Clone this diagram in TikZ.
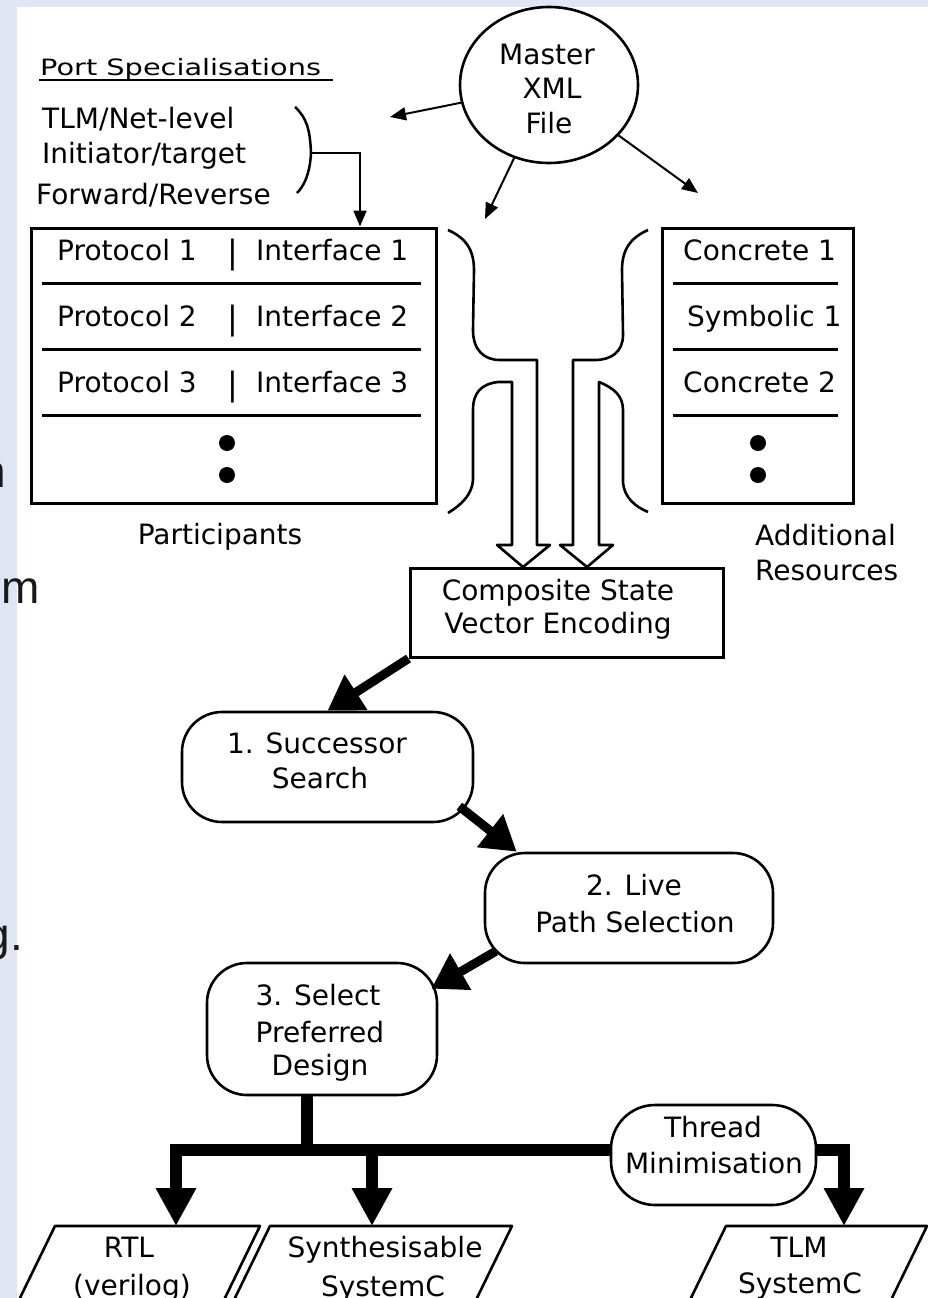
\documentclass[tikz,border=0pt]{standalone}
\usepackage{fontspec}
\setmainfont{DejaVu Sans}
\newfontfamily\slidefont{Liberation Sans}
\usetikzlibrary{arrows.meta,shapes.geometric}
\definecolor{slidebg}{RGB}{225,230,245}
\definecolor{slidetext}{RGB}{25,25,25}
\begin{document}
\begin{tikzpicture}[x=1pt,y=-1pt,
  txt/.style={inner sep=0pt, font=\fontsize{28}{34}\selectfont},
  slidetxt/.style={inner sep=0pt, anchor=base east, text=slidetext, font=\slidefont\fontsize{46}{50}\selectfont},
  plainbox/.style={draw, line width=3pt, inner sep=0pt},
  rbox/.style={draw, line width=2.6pt, rounded corners=40pt, inner sep=0pt},
  sepline/.style={line width=3pt},
  thinarrow/.style={line width=2pt, -{Triangle[length=16pt,width=13pt]}},
  fatarrow/.style={line width=9pt, -{Triangle[length=34pt,width=40pt]}},
  busline/.style={line width=12pt},
  busarrow/.style={line width=12pt, -{Triangle[length=38pt,width=38pt]}},
  outline/.style={line width=2.6pt, line join=round},
  dotmark/.style={circle, fill, inner sep=0pt, minimum size=16pt},
]
\useasboundingbox (0,0) rectangle (928,1298);
\clip (0,0) rectangle (928,1298);
% slide background
\fill[slidebg] (0,0) rectangle (928,1298);
\fill[white] (17,7) rectangle (928,1298);
\node[slidetxt] (fragn) at (6,487) {n};
\node[slidetxt] (fragm) at (40,603) {m};
\node[slidetxt] (fragg) at (23,950) {g.};

% Port specialisations
\node[txt, anchor=base west] (tps) at (40,75) {\scalebox{1.28}[1]{\fontsize{22.5}{26}\selectfont Port Specialisations}};
\draw[line width=2.5pt] (39,80) -- (333,80);
\node[txt, anchor=base west] (ttlm) at (42,128) {TLM/Net-level};
\node[txt, anchor=base west] (tinit) at (42,163) {Initiator/target};
\node[txt, anchor=base west] (tfwd) at (36,204) {Forward/Reverse};
\coordinate (bracemid) at (311,153);
\draw[line width=2.5pt] (295,107) .. controls (307,118) and (310,130) .. (bracemid) .. controls (310,172) and (305,185) .. (297,193);

% Master XML file
\node[draw, ellipse, line width=2.6pt, minimum width=178pt, minimum height=156pt, inner sep=0pt] (master) at (549,85) {};
\node[txt, anchor=base] (tmaster) at (547,65) {Master};
\node[txt, anchor=base] (txml) at (552,99) {XML};
\node[txt, anchor=base] (tfile) at (549,133) {File};
\coordinate (mtipL) at (390,117);
\coordinate (mtipD) at (485,219);
\coordinate (mtipR) at (698,193);
\draw[thinarrow] (master) -- (mtipL);
\draw[thinarrow] (master) -- (mtipD);
\draw[thinarrow] (master) -- (mtipR);

% Participants box
\node[plainbox, minimum width=405pt, minimum height=275pt] (part) at (233.5,365.5) {};
\draw[thinarrow] (bracemid) -| ([xshift=126.5pt]part.north);
\draw[sepline] (42,283) -- (421,283);
\draw[sepline] (42,349) -- (421,349);
\draw[sepline] (42,415) -- (421,415);
\node[txt, anchor=base west] (p1) at (57,260) {Protocol 1};
\node[txt, anchor=base west] (p2) at (57,326) {Protocol 2};
\node[txt, anchor=base west] (p3) at (57,392) {Protocol 3};
\node[txt, anchor=base, font=\fontsize{32}{34}\selectfont] (b1) at (233,263) {|};
\node[txt, anchor=base, font=\fontsize{32}{34}\selectfont] (b2) at (233,329) {|};
\node[txt, anchor=base, font=\fontsize{32}{34}\selectfont] (b3) at (233,395) {|};
\node[txt, anchor=base west] (i1) at (256,260) {Interface 1};
\node[txt, anchor=base west] (i2) at (256,326) {Interface 2};
\node[txt, anchor=base west] (i3) at (256,392) {Interface 3};
\node[dotmark] (pd1) at (227,443) {};
\node[dotmark] (pd2) at (227,475) {};
\node[txt, anchor=base] (tpart) at (220,544) {Participants};

% Additional resources box
\node[plainbox, minimum width=191pt, minimum height=275pt] (addr) at (757.5,365.5) {};
\draw[sepline] (673,283) -- (838,283);
\draw[sepline] (673,349) -- (838,349);
\draw[sepline] (673,415) -- (838,415);
\node[txt, anchor=base west] (c1) at (683,260) {Concrete 1};
\node[txt, anchor=base west] (s1) at (687,326) {Symbolic 1};
\node[txt, anchor=base west] (c2) at (683,392) {Concrete 2};
\node[dotmark] (ad1) at (758,443) {};
\node[dotmark] (ad2) at (758,475) {};
\node[txt, anchor=base west] (tadd) at (755,545) {Additional};
\node[txt, anchor=base west] (tres) at (755,580) {Resources};

% funnel braces and hollow arrows
\draw[outline] (448,230) .. controls (466,238) and (474,250) .. (474,270) -- (473,330)
  .. controls (473,350) and (484,360) .. (500,360) -- (537,360) -- (537,545) -- (550,545)
  -- (523,567) -- (497,545) -- (512,545) -- (512,382) -- (498,382)
  .. controls (481,384) and (473,393) .. (473,410) -- (473,480)
  .. controls (472,495) and (461,505) .. (448,513);
\draw[outline] (648,230) .. controls (630,238) and (622,250) .. (622,270) -- (623,335)
  .. controls (623,352) and (611,360) .. (595,360) -- (573,360) -- (573,545) -- (560,545)
  -- (587,567) -- (613,545) -- (599,545) -- (599,382)
  .. controls (614,388) and (623,396) .. (623,410) -- (623,482)
  .. controls (624,498) and (636,507) .. (648,512);

% Composite state vector encoding
\node[plainbox, minimum width=313pt, minimum height=89pt] (comp) at (566.5,612.5) {};
\node[txt, anchor=base] (tcomp1) at (558,600) {Composite State};
\node[txt, anchor=base] (tcomp2) at (558,633) {Vector Encoding};

% 1. Successor search
\node[rbox, minimum width=291pt, minimum height=110pt] (succ) at (327.5,767) {};
\node[txt, anchor=base] (tsucc1) at (317,753) {1. Successor};
\node[txt, anchor=base] (tsucc2) at (320,788) {Search};

% 2. Live path selection
\node[rbox, minimum width=288pt, minimum height=110pt] (live) at (629,908) {};
\node[txt, anchor=base] (tlive1) at (634,895) {2. Live};
\node[txt, anchor=base] (tlive2) at (635,932) {Path Selection};

% 3. Select preferred design
\node[rbox, minimum width=230pt, minimum height=132pt] (sel) at (322,1029) {};
\node[txt, anchor=base] (tsel1) at (318,1005) {3. Select};
\node[txt, anchor=base] (tsel2) at (320,1042) {Preferred};
\node[txt, anchor=base] (tsel3) at (320,1075) {Design};

% Thread minimisation
\node[rbox, rounded corners=44pt, minimum width=205pt, minimum height=100pt] (thread) at (713.5,1155) {};
\node[txt, anchor=base] (tthr1) at (713,1137) {Thread};
\node[txt, anchor=base] (tthr2) at (714,1173) {Minimisation};

% flow arrows
\draw[fatarrow] (comp.south west) -- (succ.north);
\draw[fatarrow] ([xshift=-15pt,yshift=17pt]succ.south east) -- ([xshift=33pt]live.north west);
\draw[fatarrow] ([xshift=12pt,yshift=13pt]live.south west) -- ([xshift=-7pt,yshift=-27pt]sel.north east);

% output parallelograms
\coordinate (rtltop) at (176,1226);
\coordinate (syntop) at (372,1226);
\coordinate (tlmtop) at (844,1226);
\draw[outline] (-0.5,1340) -- (55,1226) -- (260,1226) -- (204.5,1340);
\draw[outline] (214.5,1340) -- (270,1226) -- (512,1226) -- (456.5,1340);
\draw[outline] (670.5,1340) -- (726,1226) -- (927,1226) -- (871.5,1340);
\node[txt, anchor=base] (trtl1) at (129,1257) {RTL};
\node[txt, anchor=base] (trtl2) at (132,1295) {(verilog)};
\node[txt, anchor=base] (tsyn1) at (385,1257) {Synthesisable};
\node[txt, anchor=base] (tsyn2) at (383,1296) {SystemC};
\node[txt, anchor=base] (ttlm1) at (799,1257) {TLM};
\node[txt, anchor=base] (ttlm2) at (800,1293) {SystemC};

% bus
\coordinate (busy) at (307,1150);
\draw[busline] (sel.south -| busy) -- (busy);
\draw[busarrow] (thread.west |- busy) -| (rtltop);
\draw[busarrow] (syntop |- busy) -- (syntop);
\draw[busarrow] (thread.east |- busy) -| (tlmtop);
\end{tikzpicture}
\end{document}
